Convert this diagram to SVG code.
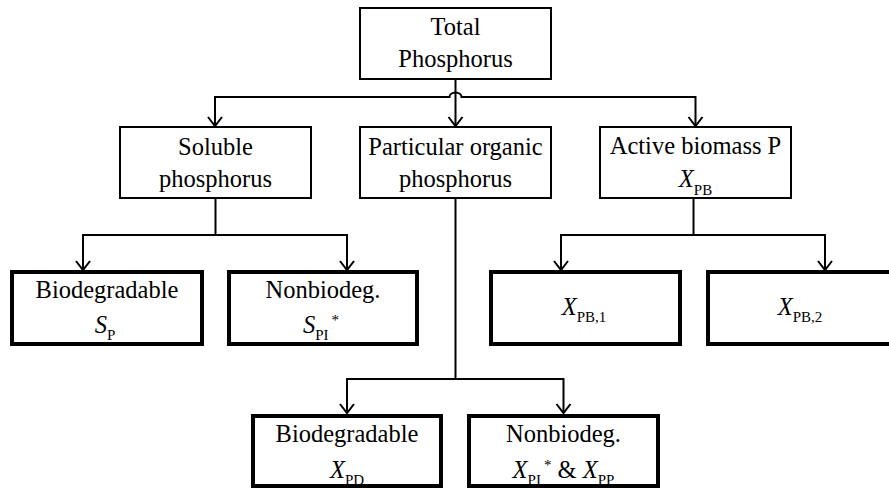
<svg xmlns="http://www.w3.org/2000/svg" width="889" height="488" viewBox="0 0 889 488" font-family="Liberation Serif">
<style>
.thin { fill: #fff; stroke: #000; stroke-width: 2; }
.thick { fill: #fff; stroke: #000; stroke-width: 4; }
.c { fill: none; stroke: #000; stroke-width: 2; }
.t { font-size: 24.5px; fill: #000; text-anchor: middle; }
.i { font-style: italic; }
.s { font-size: 15px; }
</style>
<defs>
<marker id="arr" viewBox="-12 -9 14 18" refX="0" refY="0" markerWidth="14" markerHeight="18" markerUnits="userSpaceOnUse" orient="auto-start-reverse">
<path d="M-9,-7 L0,0 L-9,7" fill="none" stroke="#000" stroke-width="2"/>
</marker>
</defs>
<rect width="889" height="488" fill="#fff"/>

<g id="connectors">
<path class="c" d="M215,126 V97 H449.5 A6,4.5 0 0 1 461.5,97 H695.5 V126" marker-start="url(#arr)" marker-end="url(#arr)"/>
<path class="c" d="M455.5,79 V126" marker-end="url(#arr)"/>
<path class="c" d="M215.5,198 V235"/>
<path class="c" d="M83,270 V235 H347 V270" marker-start="url(#arr)" marker-end="url(#arr)"/>
<path class="c" d="M693.5,198 V235"/>
<path class="c" d="M561,270 V235 H825 V270" marker-start="url(#arr)" marker-end="url(#arr)"/>
<path class="c" d="M455.5,198 V379"/>
<path class="c" d="M347,413 V379 H563.5 V413" marker-start="url(#arr)" marker-end="url(#arr)"/>
</g>

<g id="total">
<rect class="thin" x="360" y="8" width="191" height="71"/>
<text class="t" x="455.5" y="35">Total</text>
<text class="t" x="455.5" y="67">Phosphorus</text>
</g>

<g id="soluble">
<rect class="thin" x="120" y="127" width="191" height="71"/>
<text class="t" x="215.5" y="155">Soluble</text>
<text class="t" x="215.5" y="187">phosphorus</text>
</g>

<g id="particular">
<rect class="thin" x="360" y="127" width="191" height="71"/>
<text class="t" x="455.5" y="155">Particular organic</text>
<text class="t" x="455.5" y="187">phosphorus</text>
</g>

<g id="active">
<rect class="thin" x="600" y="127" width="191" height="71"/>
<text class="t" x="695.5" y="154">Active biomass P</text>
<text class="t" x="695.5" y="187"><tspan class="i">X</tspan><tspan class="s" dy="8">PB</tspan></text>
</g>

<g id="sp">
<rect class="thick" x="12" y="272" width="190" height="72"/>
<text class="t" x="107" y="298">Biodegradable</text>
<text class="t" x="105" y="333"><tspan class="i">S</tspan><tspan class="s" dy="7">P</tspan></text>
</g>

<g id="spi">
<rect class="thick" x="229" y="272" width="188" height="72"/>
<text class="t" x="323" y="298">Nonbiodeg.</text>
<text class="t" x="321" y="333"><tspan class="i">S</tspan><tspan class="s" dy="7">PI</tspan><tspan class="s" dx="3" dy="-15">*</tspan></text>
</g>

<g id="xpb1">
<rect class="thick" x="491" y="272" width="189" height="72"/>
<text class="t" x="584" y="315"><tspan class="i">X</tspan><tspan class="s" dy="7">PB,1</tspan></text>
</g>

<g id="xpb2">
<rect class="thick" x="708" y="272" width="189" height="72"/>
<text class="t" x="800" y="315"><tspan class="i">X</tspan><tspan class="s" dy="7">PB,2</tspan></text>
</g>

<g id="xpd">
<rect class="thick" x="253" y="416" width="188" height="70"/>
<text class="t" x="347" y="442">Biodegradable</text>
<text class="t" x="347" y="478"><tspan class="i">X</tspan><tspan class="s" dy="7">PD</tspan></text>
</g>

<g id="xpi">
<rect class="thick" x="469" y="416" width="189" height="70"/>
<text class="t" x="563.5" y="442">Nonbiodeg.</text>
<text class="t" x="563.5" y="478"><tspan class="i">X</tspan><tspan class="s" dy="7">PI</tspan><tspan class="s" dx="3" dy="-15">*</tspan><tspan dy="8"> &amp; </tspan><tspan class="i">X</tspan><tspan class="s" dy="7">PP</tspan></text>
</g>
</svg>
